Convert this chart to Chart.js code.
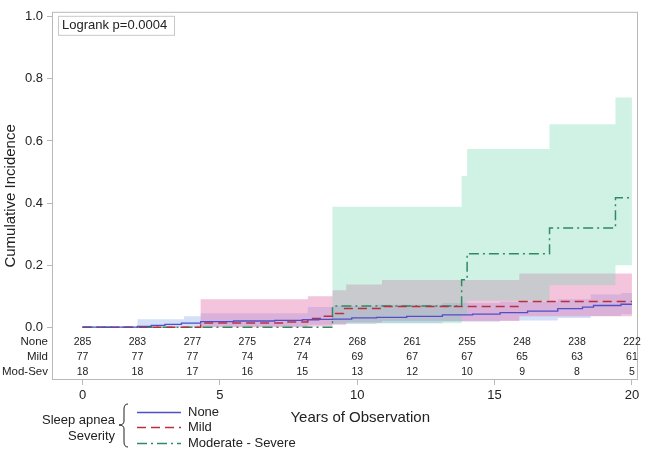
<!DOCTYPE html>
<html>
<head>
<meta charset="utf-8">
<script src="https://cdn.jsdelivr.net/npm/chart.js@4/dist/chart.umd.min.js"></script>
<style>
  body { margin: 0; background: #fff; }
  #wrap { width: 651px; height: 449px; }
</style>
</head>
<body>
<div id="wrap"><canvas id="kmChart" width="651" height="449"></canvas></div>
<script>
// step curves: value holds from each time until the next one
const noneTimes = [0, 2.0, 2.5, 3.0, 3.6, 4.3, 5.5, 7.0, 8.0, 8.6, 9.1, 9.8, 10.7, 11.8, 13.1, 14.2, 15.2, 16.2, 17.3, 18.2, 18.6, 19.6, 20];
const noneValues = [0, 0.003, 0.006, 0.009, 0.013, 0.018, 0.02, 0.022, 0.024, 0.025, 0.026, 0.03, 0.032, 0.035, 0.04, 0.042, 0.047, 0.052, 0.06, 0.065, 0.07, 0.074, 0.074];
const mildTimes = [0, 4.3, 7.4, 8.2, 8.65, 9.1, 9.5, 10.9, 15.9, 20];
const mildValues = [0, 0.014, 0.017, 0.028, 0.035, 0.044, 0.06, 0.067, 0.083, 0.083];
const sevTimes = [0, 9.1, 13.8, 14.0, 17.0, 19.4, 20];
const sevValues = [0, 0.068, 0.153, 0.237, 0.32, 0.417, 0.417];

// confidence bands
const noneBandTimes = [0, 2.0, 3.7, 4.3, 8.2, 9.1, 10.7, 13.1, 15.2, 17.3, 18.5, 19.6, 20];
const noneBandLow = [0, 0, 0, 0.002, 0.008, 0.01, 0.013, 0.018, 0.022, 0.03, 0.036, 0.042, 0.042];
const noneBandHigh = [0, 0.026, 0.035, 0.045, 0.065, 0.068, 0.072, 0.078, 0.082, 0.09, 0.105, 0.11, 0.11];
const mildBandTimes = [0, 4.3, 8.2, 9.1, 9.6, 10.9, 15.9, 20];
const mildBandLow = [0, 0, 0.002, 0.008, 0.015, 0.02, 0.035, 0.04];
const mildBandHigh = [0, 0.09, 0.10, 0.119, 0.138, 0.152, 0.173, 0.173];
const sevBandTimes = [0, 9.1, 13.8, 14.0, 17.0, 19.4, 20];
const sevBandLow = [0, 0.013, 0.04, 0.085, 0.135, 0.2, 0.2];
const sevBandHigh = [0, 0.388, 0.487, 0.574, 0.654, 0.74, 0.74];

// number at risk table
const riskTimes = [0, 2, 4, 6, 8, 10, 12, 14, 16, 18, 20];
const riskRows = ["None", "Mild", "Mod-Sev"];
const riskNone = [285, 283, 277, 275, 274, 268, 261, 255, 248, 238, 222];
const riskMild = [77, 77, 77, 74, 74, 69, 67, 67, 65, 63, 61];
const riskSev = [18, 18, 17, 16, 15, 13, 12, 10, 9, 8, 5];
const riskRowY = [-0.048, -0.096, -0.144];

const xTicks = [0, 5, 10, 15, 20];
const yTicks = [0, 0.2, 0.4, 0.6, 0.8, 1.0];
const legendLabels = ["None", "Mild", "Moderate - Severe"];

const FONT = '"Liberation Sans", Arial, sans-serif';
const TXT = "#222";
const blue = "#4f4fc8";
const red = "#b8303c";
const green = "#2e8b62";

function pts(times, vals) {
    return times.map((t, i) => ({ x: t, y: vals[i] }));
}

function bandPair(times, lo, hi, fillColor, order) {
    return [
        { data: pts(times, lo), stepped: true, borderWidth: 0, borderColor: "rgba(0,0,0,0)", pointRadius: 0, fill: false, order: order },
        { data: pts(times, hi), stepped: true, borderWidth: 0, borderColor: "rgba(0,0,0,0)", pointRadius: 0, fill: "-1", backgroundColor: fillColor, order: order }
    ];
}

const overlay = {
    id: "overlay",
    afterDraw(chart) {
        const ctx = chart.ctx;
        const a = chart.chartArea;
        const x = chart.scales.x;
        const y = chart.scales.y;
        ctx.save();

        // plot frame
        ctx.strokeStyle = "#b8b8b8";
        ctx.lineWidth = 1;
        ctx.strokeRect(a.left + 0.5, a.top + 0.5, a.right - a.left - 1, a.bottom - a.top - 1);

        // logrank box
        ctx.font = "13px " + FONT;
        ctx.fillStyle = "#fff";
        ctx.fillRect(a.left + 6, a.top + 4, 116, 19);
        ctx.strokeStyle = "#c8c8c8";
        ctx.strokeRect(a.left + 6.5, a.top + 4.5, 116, 19);
        ctx.fillStyle = TXT;
        ctx.textAlign = "left";
        ctx.textBaseline = "middle";
        ctx.fillText("Logrank p=0.0004", a.left + 10, a.top + 14);

        // at risk table
        const rows = [riskNone, riskMild, riskSev];
        rows.forEach((vals, r) => {
            const py = y.getPixelForValue(riskRowY[r]);
            ctx.font = "11.5px " + FONT;
            ctx.textAlign = "right";
            ctx.fillText(riskRows[r], a.left - 4, py);
            ctx.font = "10.5px " + FONT;
            ctx.textAlign = "center";
            vals.forEach((v, i) => ctx.fillText(String(v), x.getPixelForValue(riskTimes[i]), py));
        });

        // axis titles
        ctx.font = "15px " + FONT;
        ctx.textAlign = "center";
        ctx.fillText("Years of Observation", x.getPixelForValue(10) + 3, a.bottom + 38);
        ctx.save();
        ctx.translate(11, (a.top + a.bottom) / 2);
        ctx.rotate(-Math.PI / 2);
        ctx.fillText("Cumulative Incidence", 0, 0);
        ctx.restore();

        // legend
        ctx.font = "13px " + FONT;
        ctx.textAlign = "right";
        ctx.fillText("Sleep apnea", 115, 420);
        ctx.fillText("Severity", 115, 436);
        ctx.strokeStyle = TXT;
        ctx.lineWidth = 1;
        ctx.setLineDash([]);
        const bx = 124, bt = 404, bm = 425, bb = 447;
        ctx.beginPath();
        ctx.moveTo(bx + 4, bt);
        ctx.quadraticCurveTo(bx, bt, bx, bt + 5);
        ctx.lineTo(bx, bm - 4);
        ctx.quadraticCurveTo(bx, bm, bx - 5, bm);
        ctx.quadraticCurveTo(bx, bm, bx, bm + 4);
        ctx.lineTo(bx, bb - 5);
        ctx.quadraticCurveTo(bx, bb, bx + 4, bb);
        ctx.stroke();

        const lineStyles = [
            { color: blue, dash: [] },
            { color: red, dash: [9, 5] },
            { color: green, dash: [10, 4, 2, 4] }
        ];
        const ly = [412, 427, 443];
        lineStyles.forEach((s, i) => {
            ctx.strokeStyle = s.color;
            ctx.lineWidth = 1.3;
            ctx.setLineDash(s.dash);
            ctx.beginPath();
            ctx.moveTo(137, ly[i] + 0.5);
            ctx.lineTo(181, ly[i] + 0.5);
            ctx.stroke();
        });
        ctx.setLineDash([]);
        ctx.textAlign = "left";
        ctx.fillStyle = TXT;
        legendLabels.forEach((l, i) => ctx.fillText(l, 188, ly[i]));

        ctx.restore();
    }
};

const datasets = [
    { data: pts(noneTimes, noneValues), stepped: true, borderColor: blue, borderWidth: 1.3, pointRadius: 0, fill: false, order: 1 },
    { data: pts(mildTimes, mildValues), stepped: true, borderColor: red, borderWidth: 1.5, borderDash: [9, 5], pointRadius: 0, fill: false, order: 2 },
    { data: pts(sevTimes, sevValues), stepped: true, borderColor: green, borderWidth: 1.5, borderDash: [10, 4, 2, 4], pointRadius: 0, fill: false, order: 3 }
];
datasets.push(...bandPair(sevBandTimes, sevBandLow, sevBandHigh, "rgba(110, 215, 170, 0.32)", 4));
datasets.push(...bandPair(mildBandTimes, mildBandLow, mildBandHigh, "rgba(225, 100, 165, 0.38)", 5));
datasets.push(...bandPair(noneBandTimes, noneBandLow, noneBandHigh, "rgba(120, 160, 230, 0.32)", 6));

new Chart(document.getElementById("kmChart"), {
    type: "line",
    data: { datasets },
    options: {
        responsive: false,
        animation: false,
        layout: { padding: { top: 10, right: 13, left: 0, bottom: 0 } },
        plugins: { legend: { display: false }, tooltip: { enabled: false } },
        scales: {
            x: {
                type: "linear",
                min: -1.11,
                max: 20.22,
                afterBuildTicks: s => { s.ticks = xTicks.map(v => ({ value: v })); },
                afterFit: s => { s.height = 69; },
                ticks: { font: { family: FONT, size: 13 }, color: TXT, padding: 3, maxRotation: 0 },
                grid: { drawOnChartArea: false, drawTicks: true, tickLength: 5, color: "#b8b8b8" },
                border: { display: false }
            },
            y: {
                type: "linear",
                min: -0.17,
                max: 1.016,
                afterBuildTicks: s => { s.ticks = yTicks.map(v => ({ value: v })); },
                afterFit: s => { s.width = 52; },
                ticks: { font: { family: FONT, size: 13 }, color: TXT, padding: 4, callback: v => v.toFixed(1) },
                grid: { drawOnChartArea: false, drawTicks: true, tickLength: 5, color: "#b8b8b8" },
                border: { display: false }
            }
        }
    },
    plugins: [overlay]
});
</script>
</body>
</html>
